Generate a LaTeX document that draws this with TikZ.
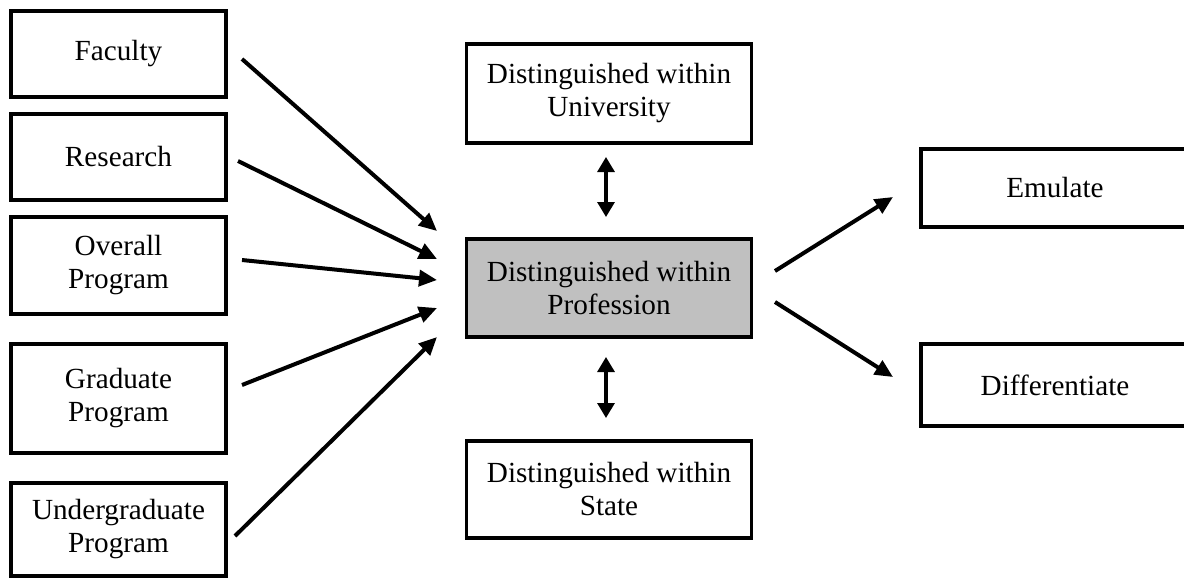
\documentclass[tikz,border=0pt]{standalone}
\usepackage{fontspec}
\setmainfont{Liberation Serif}
\usetikzlibrary{arrows.meta}
\begin{document}
\begin{tikzpicture}[x=0.5pt,y=-0.5pt,
  box/.style={draw,line width=1.8pt,align=center,inner sep=0pt,
    font=\fontsize{14.6}{16.5}\selectfont},
  lbox/.style={box,minimum width=107.5pt,minimum height=#1},
  mbox/.style={box,minimum width=142.5pt,minimum height=#1},
  rbox/.style={box,minimum width=134pt,minimum height=#1},
  arr/.style={line width=2pt,-{Triangle[length=9pt,width=8pt]}},
  darr/.style={line width=1.6pt,{Triangle[length=7.5pt,width=8.5pt]}-{Triangle[length=7.5pt,width=8.5pt]}}]
\useasboundingbox (0,0) rectangle (1184,579);
% left column
\node[lbox=43pt] (fac) at (118.5,54) {Faculty};
\node[lbox=43pt] (res) at (118.5,157) {Research};
\node[lbox=48.5pt] (ovr) at (118.5,265.5) {Overall\\Program};
\node[lbox=54.5pt] (grd) at (118.5,398.5) {Graduate\\Program};
\node[lbox=46.5pt] (und) at (118.5,529.5) {Undergraduate\\Program};
% middle column
\node[mbox=49.5pt] (uni) at (609,93.5) {Distinguished within\\University};
\node[mbox=49pt,fill={rgb,255:red,192;green,192;blue,192}] (pro) at (609,288) {Distinguished within\\Profession};
\node[mbox=48.5pt] (sta) at (609,489.5) {Distinguished within\\State};
% right column
\node[rbox=39pt] (emu) at (1055,188) {Emulate};
\node[rbox=41pt] (dif) at (1055,385) {Differentiate};
% arrow end points
\coordinate (facS) at (242,59);  \coordinate (facE) at (437,231);
\coordinate (resS) at (238,161); \coordinate (resE) at (437,259);
\coordinate (ovrS) at (242,260); \coordinate (ovrE) at (437,280);
\coordinate (grdS) at (242,385); \coordinate (grdE) at (437,308);
\coordinate (undS) at (235,536); \coordinate (undE) at (437,337);
\coordinate (emuS) at (775,271); \coordinate (emuE) at (893,197);
\coordinate (difS) at (775,302); \coordinate (difE) at (893,377);
\coordinate (uniA) at (606,157); \coordinate (uniB) at (606,217);
\coordinate (staA) at (606,357); \coordinate (staB) at (606,418);
\draw[arr] (facS) -- (facE);
\draw[arr] (resS) -- (resE);
\draw[arr] (ovrS) -- (ovrE);
\draw[arr] (grdS) -- (grdE);
\draw[arr] (undS) -- (undE);
\draw[arr] (emuS) -- (emuE);
\draw[arr] (difS) -- (difE);
\draw[darr] (uniA) -- (uniB);
\draw[darr] (staA) -- (staB);
\end{tikzpicture}
\end{document}
